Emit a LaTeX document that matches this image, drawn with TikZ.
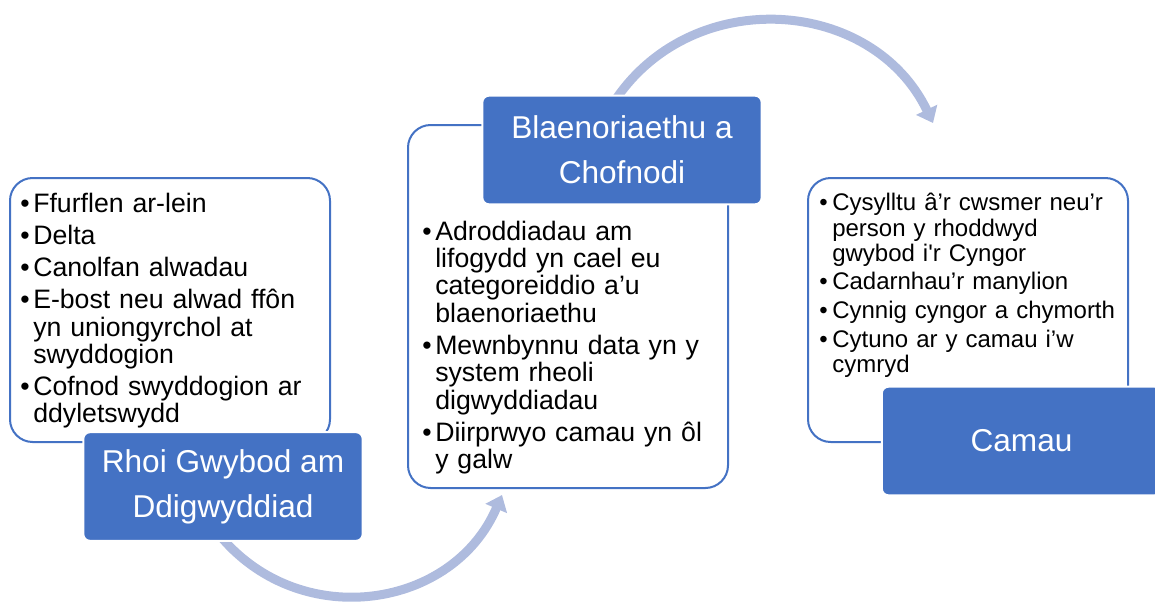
\documentclass[tikz,border=0pt]{standalone}
\usepackage{fontspec}
\setmainfont{Liberation Sans}
\usetikzlibrary{arrows.meta}
\tikzset{>={Triangle[width=17pt,length=11pt]}}
\definecolor{boxblue}{RGB}{68,114,196}
\definecolor{arcblue}{RGB}{174,187,222}
\newcommand{\bul}{\par\hangindent=9.75pt\hangafter=1\noindent\makebox[9.75pt][l]{\textbullet}}

\begin{document}
\begin{tikzpicture}[x=0.75pt, y=-0.75pt,
  listbox/.style={draw=boxblue, line width=1.5pt, fill=white, rounded corners=17pt, minimum width=240pt, inner sep=0pt},
  headbox/.style={fill=boxblue, draw=white, line width=1.5pt, rounded corners=5pt, minimum width=209.5pt, minimum height=81.5pt, text=white, align=center, font=\fontsize{23.7pt}{34pt}\selectfont, inner sep=0pt},
  listtext/.style={anchor=north west, inner sep=0pt, text width=225pt, align=left, font=\fontsize{20pt}{20.4pt}\selectfont},
  flow/.style={->, draw=arcblue, line width=6.75pt, looseness=1.12}
]
\useasboundingbox (0,0) rectangle (1155,601);

% Curved arrows (behind the boxes)
\coordinate (a1) at (222,538);
\coordinate (b1) at (502,495);
\coordinate (a2) at (616,99);
\coordinate (b2) at (933,123);
\draw[flow] (a1) to[bend right=58] (b1);
\draw[flow] (a2) to[bend left=60] (b2);

% Step 1
\node[listbox, minimum height=198pt] (list1) at (170,310) {};
\node[listtext] (text1) at (20,179.5) {\setlength{\parskip}{3.8pt}%
  \bul\rule{0pt}{15.6pt}Ffurflen ar-lein
  \bul Delta
  \bul Canolfan alwadau
  \bul E-bost neu alwad ffôn\newline yn uniongyrchol at\newline swyddogion
  \bul Cofnod swyddogion ar\newline ddyletswydd\par};
\node[headbox] (head1) at (223,486.5) {Rhoi Gwybod am\\Ddigwyddiad};

% Step 2
\node[listbox, minimum height=272.25pt] (list2) at (568,306.5) {};
\node[headbox] (head2) at (622,150) {Blaenoriaethu a\\Chofnodi};
\node[listtext] (text2) at (422,207.5) {\setlength{\parskip}{4.1pt}%
  \bul\rule{0pt}{15.6pt}Adroddiadau am\newline lifogydd yn cael eu\newline categoreiddio a’u\newline blaenoriaethu
  \bul Mewnbynnu data yn y\newline system rheoli\newline digwyddiadau
  \bul Diirprwyo camau yn ôl\newline y galw\par};

% Step 3
\node[listbox, minimum height=198pt] (list3) at (968,310) {};
\node[listtext, text width=230pt, font=\fontsize{18pt}{18.8pt}\selectfont] (text3) at (819,182) {\setlength{\parskip}{2.7pt}%
  \bul\rule{0pt}{14pt}Cysylltu â’r cwsmer neu’r\newline person y rhoddwyd\newline gwybod i\textquotesingle r Cyngor
  \bul Cadarnhau’r manylion
  \bul Cynnig cyngor a chymorth
  \bul Cytuno ar y camau i’w\newline cymryd\par};
\node[headbox] (head3) at (1021.5,441) {Camau};

\end{tikzpicture}
\end{document}
